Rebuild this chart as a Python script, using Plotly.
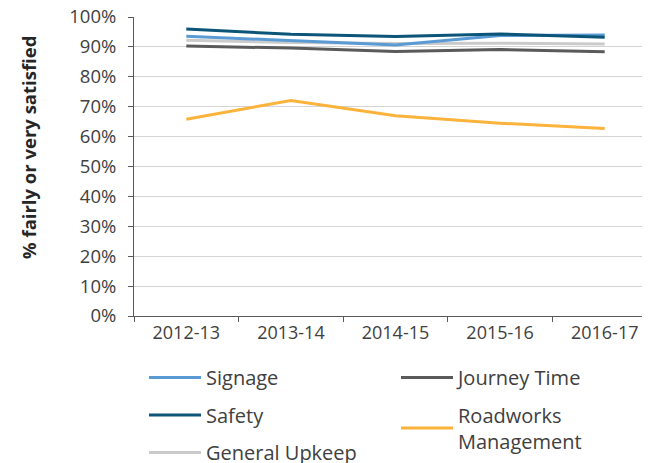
import plotly.graph_objects as go

years = ["2012-13", "2013-14", "2014-15", "2015-16", "2016-17"]
signage = [0.936, 0.922, 0.906, 0.938, 0.940]
safety = [0.960, 0.942, 0.935, 0.943, 0.932]
general_upkeep = [0.922, 0.915, 0.911, 0.912, 0.910]
journey_time = [0.903, 0.896, 0.885, 0.891, 0.884]
roadworks = [0.658, 0.721, 0.670, 0.645, 0.627]

series = [
    ("Journey Time", journey_time, "#5a5a5a", "legend2"),
    ("Roadworks<br>Management", roadworks, "#fbb33b", "legend2"),
    ("General Upkeep", general_upkeep, "#cbcbcb", "legend"),
    ("Signage", signage, "#5b9bd5", "legend"),
    ("Safety", safety, "#0c5579", "legend"),
]
legend_rank = {"Signage": 1, "Safety": 2, "General Upkeep": 3,
               "Journey Time": 1, "Roadworks<br>Management": 2}

fig = go.Figure()
for name, vals, color, lg in series:
    fig.add_trace(go.Scatter(
        x=years, y=vals, name=name, mode="lines",
        line=dict(color=color, width=3),
        legend=lg, legendgroup=name, legendrank=legend_rank[name],
    ))

# figure-coordinate layout (page shows an ~8px body offset)
W, H = 650, 463
L, R, T, B = 126, 649, 9, 308
PW, PH = R - L, B - T
leg_top = (B - 350) / PH
font = "Open Sans, DejaVu Sans, sans-serif"
leg_common = dict(yanchor="top", xanchor="left",
                  font=dict(size=20, color="#404040"), tracegroupgap=8.5,
                  itemwidth=52, bgcolor="rgba(0,0,0,0)")
fig.update_layout(
    width=W, height=H,
    margin=dict(l=L, r=W - R, t=T, b=H - B, autoexpand=False),
    paper_bgcolor="white", plot_bgcolor="white",
    font=dict(family=font, color="#404040", size=18),
    legend=dict(x=(136 - L) / PW, y=leg_top, **leg_common),
    legend2=dict(x=(388 - L) / PW, y=leg_top, **leg_common),
    xaxis=dict(type="category", showline=True, linecolor="#595959", linewidth=1,
               ticks="outside", tickson="boundaries", ticklen=5, tickcolor="#595959",
               showgrid=False, tickfont=dict(size=18, color="#404040"),
               range=[-0.5, 4.5], ticklabeloverflow="allow"),
    yaxis=dict(range=[0, 1], dtick=0.1, tickformat=".0%", showline=True,
               linecolor="#595959", linewidth=1, ticks="outside", ticklen=5,
               tickcolor="#595959", showgrid=True, gridcolor="#d4d4d4", gridwidth=1,
               tickfont=dict(size=18.5, color="#404040"), zeroline=False,
               ticklabelstandoff=8, ticklabeloverflow="allow"),
    annotations=[dict(
        text="<b>% fairly or very satisfied</b>", textangle=-90,
        xref="paper", yref="paper", x=(20 - L) / PW, y=(B - 140) / PH,
        xanchor="center", yanchor="middle", showarrow=False,
        font=dict(size=18.5, color="#262626", family=font),
    )],
)

fig.write_html("out.html")
